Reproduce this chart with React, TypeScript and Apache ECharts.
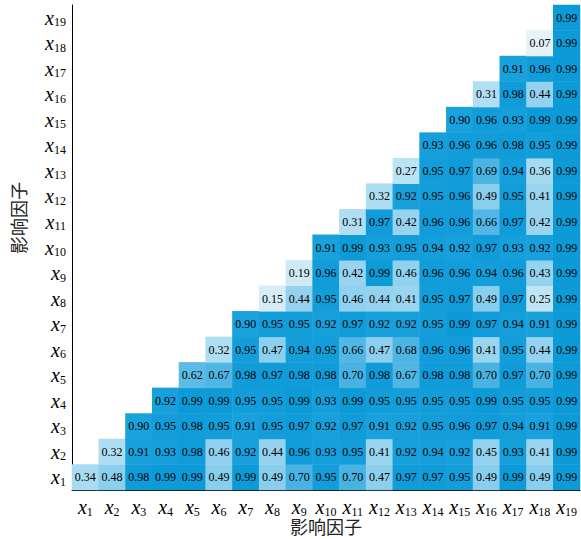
import React, { useEffect, useRef } from "react";
import * as echarts from "echarts";

const factors = ["x1","x2","x3","x4","x5","x6","x7","x8","x9","x10","x11","x12","x13","x14","x15","x16","x17","x18","x19"];

// row j holds values for columns xj..x19
const row1 = [0.34,0.48,0.98,0.99,0.99,0.49,0.99,0.49,0.70,0.95,0.70,0.47,0.97,0.97,0.95,0.49,0.99,0.49,0.99];
const row2 = [0.32,0.91,0.93,0.98,0.46,0.92,0.44,0.96,0.93,0.95,0.41,0.92,0.94,0.92,0.45,0.93,0.41,0.99];
const row3 = [0.90,0.95,0.98,0.95,0.91,0.95,0.97,0.92,0.97,0.91,0.92,0.95,0.96,0.97,0.94,0.91,0.99];
const row4 = [0.92,0.99,0.99,0.95,0.95,0.99,0.93,0.99,0.95,0.95,0.95,0.95,0.99,0.95,0.95,0.99];
const row5 = [0.62,0.67,0.98,0.97,0.98,0.98,0.70,0.98,0.67,0.98,0.98,0.70,0.97,0.70,0.99];
const row6 = [0.32,0.95,0.47,0.94,0.95,0.66,0.47,0.68,0.96,0.96,0.41,0.95,0.44,0.99];
const row7 = [0.90,0.95,0.95,0.92,0.97,0.92,0.92,0.95,0.99,0.97,0.94,0.91,0.99];
const row8 = [0.15,0.44,0.95,0.46,0.44,0.41,0.95,0.97,0.49,0.97,0.25,0.99];
const row9 = [0.19,0.96,0.42,0.99,0.46,0.96,0.96,0.94,0.96,0.43,0.99];
const row10 = [0.91,0.99,0.93,0.95,0.94,0.92,0.97,0.93,0.92,0.99];
const row11 = [0.31,0.97,0.42,0.96,0.96,0.66,0.97,0.42,0.99];
const row12 = [0.32,0.92,0.95,0.96,0.49,0.95,0.41,0.99];
const row13 = [0.27,0.95,0.97,0.69,0.94,0.36,0.99];
const row14 = [0.93,0.96,0.96,0.98,0.95,0.99];
const row15 = [0.90,0.96,0.93,0.99,0.99];
const row16 = [0.31,0.98,0.44,0.99];
const row17 = [0.91,0.96,0.99];
const row18 = [0.07,0.99];
const row19 = [0.99];

const rows = [row1,row2,row3,row4,row5,row6,row7,row8,row9,row10,row11,row12,row13,row14,row15,row16,row17,row18,row19];

const axisTitle = "影响因子";

const colorStops = ["#f2f9fb","#e0f1f8","#cbe9f5","#b2e0f3","#9cd6f0","#87cded","#62bee7","#48b3e3","#30aadf","#1aa2dc","#0c9ad8"];

export default function App() {
  const ref = useRef<HTMLDivElement>(null);
  useEffect(() => {
    if (!ref.current) return;
    const chart = echarts.init(ref.current, null, { renderer: "svg" });
    const data: [number, number, number][] = [];
    rows.forEach((r, j) => {
      r.forEach((v, k) => {
        data.push([j + k, j, v]);
      });
    });
    const serif = "'Liberation Serif', 'Times New Roman', serif";
    const rich = {
      x: { fontFamily: serif, fontStyle: "italic", fontSize: 20, color: "#000", lineHeight: 22 },
      s: { fontFamily: serif, fontSize: 12, color: "#000", padding: [9, 0, 0, 0], lineHeight: 12 },
    };
    const fmt = (v: string) => `{x|x}{s|${v.slice(1)}}`;
    chart.setOption({
      animation: false,
      grid: { left: 72, right: 1, top: 5, bottom: 49 },
      xAxis: {
        type: "category",
        data: factors,
        axisLine: { lineStyle: { color: "#000", width: 1 } },
        axisTick: { inside: true, length: 5, lineStyle: { color: "#000" } },
        axisLabel: { formatter: fmt, rich, margin: 6, interval: 0 },
        splitLine: { show: false },
      },
      yAxis: {
        type: "category",
        data: factors,
        axisLine: { lineStyle: { color: "#000", width: 1 } },
        axisTick: { inside: true, length: 6, lineStyle: { color: "#000" } },
        axisLabel: { formatter: fmt, rich, margin: 6, interval: 0 },
        splitLine: { show: false },
      },
      visualMap: {
        show: false,
        min: 0,
        max: 1,
        inRange: { color: colorStops },
      },
      graphic: [
        {
          type: "text",
          x: 326,
          y: 526,
          style: { text: axisTitle, font: "18px 'Noto Sans CJK SC'", fill: "#222", align: "center", verticalAlign: "middle" },
        },
        {
          type: "text",
          x: 18,
          y: 218,
          rotation: Math.PI / 2,
          style: { text: axisTitle, font: "18px 'Noto Sans CJK SC'", fill: "#222", align: "center", verticalAlign: "middle" },
        },
      ],
      series: [
        {
          type: "heatmap",
          data,
          label: {
            show: true,
            formatter: (p: any) => p.value[2].toFixed(2),
            fontFamily: serif,
            fontSize: 12,
            color: "#000",
          },
          emphasis: { disabled: true },
          itemStyle: { borderWidth: 0 },
        },
      ],
    });
    return () => chart.dispose();
  }, []);
  return <div ref={ref} style={{ width: 581, height: 539, position: "absolute", left: 0, top: 0 }} />;
}
